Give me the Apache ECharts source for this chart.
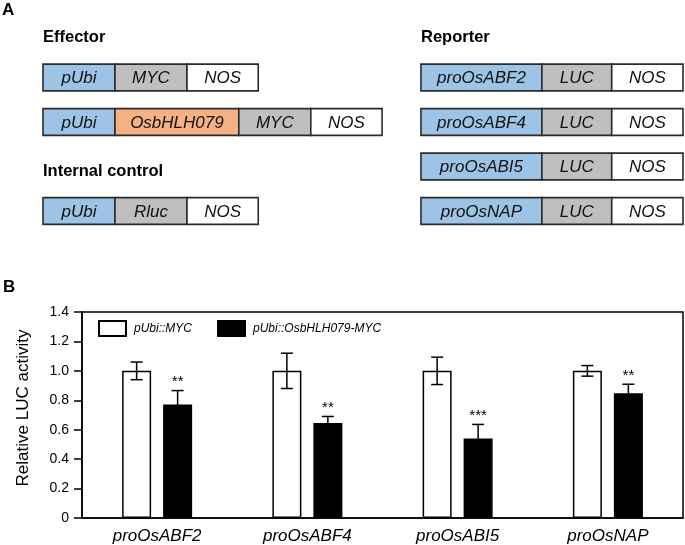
<!DOCTYPE html>
<html>
<head>
<meta charset="utf-8">
<script src="https://cdn.jsdelivr.net/npm/echarts@6/dist/echarts.min.js"></script>
<style>
html,body{margin:0;padding:0;background:#fff;}
#chart{width:685px;height:545px;}
</style>
</head>
<body>
<div id="chart"></div>
<script>
// ---------- Panel B data ----------
const categories = ['proOsABF2', 'proOsABF4', 'proOsABI5', 'proOsNAP'];
const seriesNames = ['pUbi::MYC', 'pUbi::OsbHLH079-MYC'];
const controlMean = [1.0, 1.0, 1.0, 1.0];
const controlErr = [0.06, 0.12, 0.093, 0.036];
const bhlhMean = [0.771, 0.645, 0.541, 0.848];
const bhlhErr = [0.095, 0.045, 0.095, 0.061];
const significance = ['**', '**', '***', '**'];
const yTicks = [0, 0.2, 0.4, 0.6, 0.8, 1.0, 1.2, 1.4];

// ---------- Panel A data (construct diagrams) ----------
const effectorMyc = ['pUbi', 'MYC', 'NOS'];
const effectorBhlh = ['pUbi', 'OsbHLH079', 'MYC', 'NOS'];
const internalControl = ['pUbi', 'Rluc', 'NOS'];
const reporterPromoters = ['proOsABF2', 'proOsABF4', 'proOsABI5', 'proOsNAP'];
const reporterTail = ['LUC', 'NOS'];
// relative element lengths (in standard element units)
const elementLength = { pUbi: 1, MYC: 1, NOS: 0.99, OsbHLH079: 1.72, Rluc: 1, LUC: 0.97, promoter: 1.68 };
const elementKind = { pUbi: 'promoter', MYC: 'tag', NOS: 'term', OsbHLH079: 'gene', Rluc: 'tag', LUC: 'tag' };
const reporterStart = 5.25;

const kindColor = { promoter: '#9DC3E6', tag: '#BFBFBF', term: '#FFFFFF', gene: '#F4B183' };
const FONT = "'Liberation Sans', Arial, Helvetica, sans-serif";

// build segment data [row, start, end, label, kind]
function buildConstruct(parts, row, start) {
  const out = [];
  let x = start;
  parts.forEach(function (p) {
    const isPro = p.indexOf('proOs') === 0;
    const len = isPro ? elementLength.promoter : elementLength[p];
    const kind = isPro ? 'promoter' : elementKind[p];
    out.push([row, x, x + len, p, kind]);
    x += len;
  });
  return out;
}
let segments = [];
segments = segments.concat(buildConstruct(effectorMyc, 0, 0));
segments = segments.concat(buildConstruct(effectorBhlh, 1, 0));
segments = segments.concat(buildConstruct(internalControl, 3, 0));
reporterPromoters.forEach(function (p, i) {
  segments = segments.concat(buildConstruct([p].concat(reporterTail), i, reporterStart));
});

const chart = echarts.init(document.getElementById('chart'), null, { renderer: 'canvas' });

const BAR_W = 29;
const BAR_GAP = 12;
const OFFSET = (BAR_W + BAR_GAP) / 2;

function errRender(offsetSign, sig) {
  return function (params, api) {
    const i = api.value(0);
    const m = api.value(1);
    const e = api.value(2);
    const c = api.coord([i, m]);
    const t = api.coord([i, m + e]);
    const b = api.coord([i, m - e]);
    const x = c[0] + offsetSign * OFFSET;
    const cap = 6;
    const st = { stroke: '#000', lineWidth: 1.5 };
    const children = [
      { type: 'line', shape: { x1: x, y1: t[1], x2: x, y2: b[1] }, style: st },
      { type: 'line', shape: { x1: x - cap, y1: t[1], x2: x + cap, y2: t[1] }, style: st },
      { type: 'line', shape: { x1: x - cap, y1: b[1], x2: x + cap, y2: b[1] }, style: st }
    ];
    if (sig) {
      children.push({
        type: 'text',
        style: {
          text: sig[params.dataIndex], x: x, y: t[1] - 1,
          textAlign: 'center', textVerticalAlign: 'bottom',
          font: '15px ' + FONT, fill: '#000'
        }
      });
    }
    return { type: 'group', children: children };
  };
}

const option = {
  backgroundColor: '#fff',
  animation: false,
  textStyle: { fontFamily: FONT },
  graphic: [
    { type: 'text', left: 2, top: 2, style: { text: 'A', font: 'bold 17px ' + FONT, fill: '#000' } },
    { type: 'text', left: 3, top: 279, style: { text: 'B', font: 'bold 17px ' + FONT, fill: '#000' } },
    { type: 'text', left: 43, top: 29, style: { text: 'Effector', font: 'bold 16.5px ' + FONT, fill: '#000' } },
    { type: 'text', left: 43, top: 163, style: { text: 'Internal control', font: 'bold 16.5px ' + FONT, fill: '#000' } },
    { type: 'text', left: 421, top: 29, style: { text: 'Reporter', font: 'bold 16.5px ' + FONT, fill: '#000' } }
  ],
  legend: {
    data: seriesNames,
    left: 98,
    top: 320,
    padding: 0,
    itemWidth: 27,
    itemHeight: 15,
    itemGap: 25,
    icon: 'rect',
    textStyle: { fontStyle: 'italic', fontSize: 12, color: '#000', fontFamily: FONT, padding: [0, 0, 0, 3] }
  },
  grid: [
    { left: 82, right: 2, top: 312, bottom: 26, show: true, borderColor: '#000', borderWidth: 1.5, backgroundColor: 'transparent' },
    { left: 43, width: 640, top: 55.25, height: 178 }
  ],
  xAxis: [
    {
      type: 'category', gridIndex: 0, data: categories,
      axisLine: { lineStyle: { color: '#000', width: 1.5 } },
      axisTick: { show: false },
      axisLabel: { fontStyle: 'italic', fontSize: 17, color: '#000', margin: 10, fontFamily: FONT }
    },
    { type: 'value', gridIndex: 1, min: 0, max: 8.89, show: false }
  ],
  yAxis: [
    {
      type: 'value', gridIndex: 0, min: 0, max: 1.4, interval: 0.2,
      name: 'Relative LUC activity', nameLocation: 'middle', nameGap: 50,
      nameTextStyle: { fontSize: 17, color: '#000', fontFamily: FONT, padding: [0, 0, 0, 14] },
      axisLine: { show: true, lineStyle: { color: '#000', width: 1.5 } },
      axisTick: { show: true, length: 8, lineStyle: { color: '#000', width: 1.5 } },
      splitLine: { show: false },
      axisLabel: {
        fontSize: 14, color: '#000', margin: 13, fontFamily: FONT,
        formatter: function (v) { return v === 0 ? '0' : v.toFixed(1); }
      }
    },
    { type: 'value', gridIndex: 1, min: -0.5, max: 3.5, inverse: true, show: false }
  ],
  series: [
    {
      name: seriesNames[0], type: 'bar', xAxisIndex: 0, yAxisIndex: 0,
      data: controlMean, barWidth: BAR_W, barGap: (BAR_GAP / BAR_W * 100) + '%',
      itemStyle: { color: '#fff', borderColor: '#000', borderWidth: 1.5 }
    },
    {
      name: seriesNames[1], type: 'bar', xAxisIndex: 0, yAxisIndex: 0,
      data: bhlhMean, barWidth: BAR_W,
      itemStyle: { color: '#000', borderColor: '#000', borderWidth: 1.5 }
    },
    {
      type: 'custom', xAxisIndex: 0, yAxisIndex: 0, z: 5,
      renderItem: errRender(-1, null),
      data: controlMean.map(function (m, i) { return [i, m, controlErr[i]]; })
    },
    {
      type: 'custom', xAxisIndex: 0, yAxisIndex: 0, z: 5,
      renderItem: errRender(1, significance),
      data: bhlhMean.map(function (m, i) { return [i, m, bhlhErr[i]]; })
    },
    {
      type: 'custom', xAxisIndex: 1, yAxisIndex: 1,
      data: segments,
      encode: { x: [1, 2], y: 0 },
      renderItem: function (params, api) {
        const d = segments[params.dataIndex];
        const p0 = api.coord([d[1], d[0] - 0.3]);
        const p1 = api.coord([d[2], d[0] + 0.3]);
        return {
          type: 'group',
          children: [
            {
              type: 'rect',
              shape: { x: p0[0], y: p0[1], width: p1[0] - p0[0], height: p1[1] - p0[1] },
              style: { fill: kindColor[d[4]], stroke: '#2b2b2b', lineWidth: 1.6 }
            },
            {
              type: 'text',
              style: {
                text: d[3], x: (p0[0] + p1[0]) / 2, y: (p0[1] + p1[1]) / 2 + 1,
                textAlign: 'center', textVerticalAlign: 'middle',
                font: 'italic 17px ' + FONT, fill: '#111'
              }
            }
          ]
        };
      }
    }
  ]
};
chart.setOption(option);
</script>
</body>
</html>
